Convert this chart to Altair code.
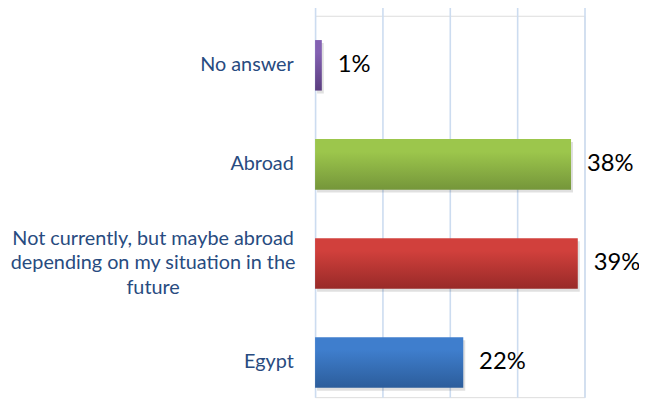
import altair as alt
import pandas as pd

categories = ["No answer", "Abroad",
              "Not currently, but maybe abroad depending on my situation in the future",
              "Egypt"]
values = [0.01, 0.38, 0.39, 0.22]
long_label_lines = ["Not currently, but maybe abroad",
                    "depending on my situation in the", "future"]
grad_top = ["#8361B2", "#9CC64C", "#D1403C", "#3F7ECD"]
grad_bottom = ["#5A3D7F", "#75963A", "#982A28", "#2C5D9B"]
x_ticks = [0, 0.1, 0.2, 0.3, 0.4]

df = pd.DataFrame({"cat": categories, "val": values})

long_cat = categories[2]
is_long = "datum.value == '%s'" % long_cat
label_expr = ("%s ? [%s] : datum.label"
              % (is_long, ", ".join("'%s'" % s for s in long_label_lines)))

y_enc = alt.Y("cat:N", sort=categories, title=None,
              scale=alt.Scale(range=[0, 400], paddingInner=0.49, paddingOuter=0.245),
              axis=alt.Axis(domain=False, ticks=False, tickSize=0, labelLimit=0,
                            labelFont="Lato", labelFontSize=20, labelColor="#284B80",
                            labelLineHeight=25, labelBaseline="middle",
                            labelExpr=label_expr,
                            labelOffset={"condition": {"test": is_long, "value": -25}, "value": 0},
                            labelAlign={"condition": {"test": is_long, "value": "center"},
                                        "value": "right"},
                            labelPadding={"condition": {"test": is_long, "value": 164},
                                          "value": 22}))
x_enc = alt.X("val:Q", title=None,
              scale=alt.Scale(domain=[0, 0.4], nice=False),
              axis=alt.Axis(values=x_ticks, labels=False, ticks=False, domain=False,
                            grid=True, gridColor="#CCDCF0", gridWidth=1.6))

base = alt.Chart(df)
layers = []
shadow = base.mark_bar(color="#000000", opacity=0.12, xOffset=2, yOffset=3).encode(x=x_enc, y=y_enc)
layers.append(shadow)
for c, t, b in zip(categories, grad_top, grad_bottom):
    grad = alt.LinearGradient(gradient="linear", x1=0, y1=0, x2=0, y2=1,
                              stops=[alt.GradientStop(color=t, offset=0),
                                     alt.GradientStop(color=t, offset=0.25),
                                     alt.GradientStop(color=b, offset=1)])
    layers.append(base.transform_filter(alt.datum.cat == c)
                  .mark_bar(color=grad).encode(x=x_enc, y=y_enc))
text = base.mark_text(align="left", baseline="middle", dx=16, font="Lato",
                      fontSize=24, color="#000000").encode(
    x=x_enc, y=y_enc, text=alt.Text("val:Q", format=".0%"))
layers.append(text)

chart = alt.layer(*layers).properties(
    width=272, height=385,
    autosize=alt.AutoSizeParams(type="none"),
    padding={"left": 310, "top": 6, "right": 55, "bottom": 0},
).configure_view(stroke=None).configure(background="white")

chart.save("out.html", embed_options={"renderer": "svg", "actions": False})
